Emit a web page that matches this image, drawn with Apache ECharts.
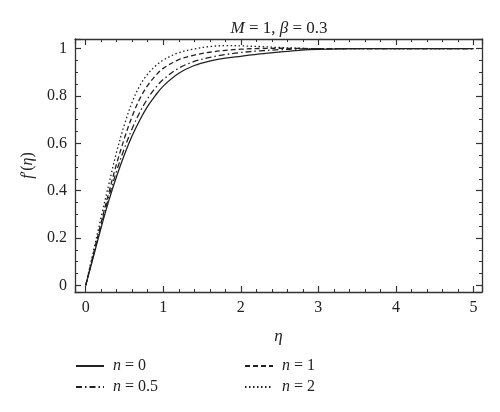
<!DOCTYPE html>
<html>
<head>
<meta charset="utf-8">
<script src="https://cdn.jsdelivr.net/npm/echarts@6/dist/echarts.min.js"></script>
<style>html,body{margin:0;padding:0;background:#fff}#c{width:500px;height:412px}</style>
</head>
<body>
<div id="c"></div>
<script>
const eta   = [0, 0.1, 0.2, 0.3, 0.4, 0.5, 0.6, 0.7, 0.8, 0.9, 1.0, 1.2, 1.4, 1.6, 1.8, 2.0, 2.25, 2.5, 2.75, 3, 3.5, 4, 4.5, 5];
const fN0   = [0, 0.122, 0.245, 0.36, 0.462, 0.553, 0.633, 0.7, 0.757, 0.803, 0.842, 0.896, 0.929, 0.948, 0.96, 0.968, 0.978, 0.986, 0.993, 0.997, 1, 1, 1, 1];
const fN05  = [0, 0.128, 0.255, 0.376, 0.485, 0.58, 0.663, 0.733, 0.79, 0.835, 0.87, 0.918, 0.946, 0.963, 0.975, 0.984, 0.991, 0.996, 0.999, 1, 1, 1, 1, 1];
const fN1   = [0, 0.134, 0.267, 0.395, 0.515, 0.622, 0.715, 0.79, 0.845, 0.886, 0.917, 0.954, 0.973, 0.985, 0.993, 0.998, 1.001, 1.002, 1.001, 1, 1, 1, 1, 1];
const fN2   = [0, 0.145, 0.29, 0.43, 0.565, 0.68, 0.775, 0.845, 0.893, 0.927, 0.952, 0.983, 0.999, 1.009, 1.013, 1.012, 1.009, 1.005, 1.002, 1.0, 1, 1, 1, 1];
const seriesNames = ['n = 0', 'n = 0.5', 'n = 1', 'n = 2'];
const xTicks = ['0', '1', '2', '3', '4', '5'];
const yTicks = ['0', '0.2', '0.4', '0.6', '0.8', '1'];

const FONT = '"Liberation Serif", "DejaVu Serif", serif';
const INK = '#222';
const pair = (ys) => eta.map((x, i) => [x, ys[i]]);
const styles = [
  { type: 'solid' },
  { type: [6, 3, 1.5, 3] },
  { type: [5, 3] },
  { type: [1.5, 2.5] }
];
const datasets = [fN0, fN05, fN1, fN2];

const axisLine = { show: true, onZero: false, lineStyle: { color: '#333', width: 1.3 } };
const xCommon = {
  type: 'value', min: -0.138, max: 5.11, splitNumber: 5,
  axisLine, splitLine: { show: false },
  axisTick: { inside: true, length: 6, lineStyle: { color: '#333', width: 1.2 } },
  minorTick: { show: true, splitNumber: 5, length: 3, lineStyle: { color: '#333', width: 1 } }
};
const yCommon = {
  type: 'value', min: -0.028, max: 1.041, splitNumber: 5,
  axisLine, splitLine: { show: false },
  axisTick: { inside: true, length: 6, lineStyle: { color: '#333', width: 1.2 } },
  minorTick: { show: true, splitNumber: 4, length: 3, lineStyle: { color: '#333', width: 1 } }
};
const fmtTick = (list) => (v) => {
  const r = Math.round(v * 1000) / 1000;
  const s = String(r);
  return list.indexOf(s) >= 0 ? s : '';
};

const chart = echarts.init(document.getElementById('c'), null, { renderer: 'canvas' });
const legends = seriesNames.map((nm, i) => ({
  data: [nm],
  left: [70, 70, 239, 239][i],
  top: [353, 374, 353, 374][i],
  itemWidth: 28, itemHeight: 12, itemGap: 0,
  itemStyle: { opacity: 0 },
  textStyle: {
    fontFamily: FONT, fontSize: 16, color: INK, padding: [0, 0, 0, 4],
    rich: { i: { fontFamily: FONT, fontStyle: 'italic', fontSize: 16, color: INK } }
  },
  formatter: (name) => '{i|n}' + name.slice(1)
}));

chart.setOption({
  animation: false,
  backgroundColor: '#fff',
  title: {
    text: '{i|M} = 1, {i|β} = 0.3',
    left: 274, top: 15, textAlign: 'center',
    textStyle: {
      fontFamily: FONT, fontSize: 17, fontWeight: 'normal', color: INK,
      rich: { i: { fontFamily: FONT, fontStyle: 'italic', fontSize: 17, color: INK } }
    }
  },
  legend: legends,
  grid: { left: 75, right: 18, top: 39, bottom: 120, containLabel: false },
  xAxis: [
    Object.assign({}, xCommon, {
      position: 'bottom',
      axisLabel: { show: true, margin: 8, fontFamily: FONT, fontSize: 16, color: INK, formatter: fmtTick(xTicks), showMinLabel: false, showMaxLabel: false },
      name: 'η', nameLocation: 'middle', nameGap: 36,
      nameTextStyle: { fontFamily: FONT, fontSize: 17, fontStyle: 'italic', color: INK }
    }),
    Object.assign({}, xCommon, { position: 'top', axisLabel: { show: false } })
  ],
  yAxis: [
    Object.assign({}, yCommon, {
      position: 'left',
      axisLabel: { show: true, margin: 8, fontFamily: FONT, fontSize: 16, color: INK, formatter: fmtTick(yTicks), showMinLabel: false, showMaxLabel: false },
      name: "{i|f}′({i|η})", nameLocation: 'middle', nameGap: 34, nameRotate: 90,
      nameTextStyle: {
        fontFamily: FONT, fontSize: 16, color: INK,
        rich: { i: { fontFamily: FONT, fontStyle: 'italic', fontSize: 16, color: INK } }
      }
    }),
    Object.assign({}, yCommon, { position: 'right', axisLabel: { show: false } })
  ],
  series: seriesNames.map((nm, i) => ({
    name: nm, type: 'line', xAxisIndex: 0, yAxisIndex: 0,
    data: pair(datasets[i]),
    smooth: 0.35, showSymbol: false, symbol: 'none',
    itemStyle: { color: INK },
    lineStyle: Object.assign({ color: INK, width: 1.3 }, styles[i]),
    clip: true
  }))
});
</script>
</body>
</html>
